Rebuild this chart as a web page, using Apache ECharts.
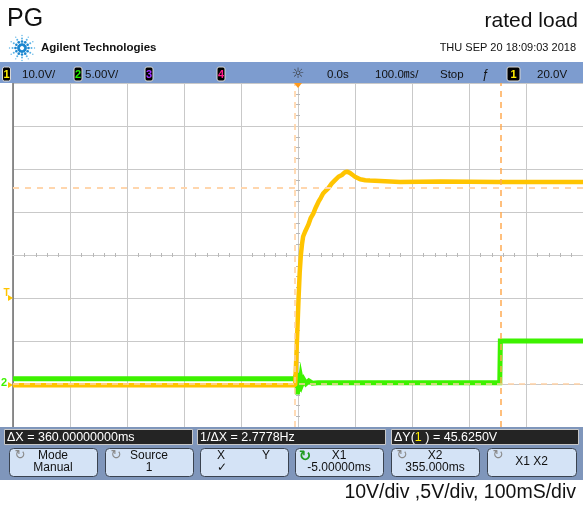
<!DOCTYPE html>
<html>
<head>
<meta charset="utf-8">
<script src="https://cdn.jsdelivr.net/npm/echarts@6/dist/echarts.min.js"></script>
<style>
html, body { margin: 0; padding: 0; background: #fff; }
#scope { width: 583px; height: 507px; }
</style>
</head>
<body>
<div id="scope"></div>
<script>
// screen is 10 x 100ms wide, 8 divisions high (centre = 0 div)
var ch1Time = [-500, -5, -3, -1, 1, 3, 5, 7, 9, 13, 18, 22, 27, 31, 36, 40, 44, 49, 53, 59, 65, 71, 77, 82, 86, 91, 96, 100, 109, 118, 126, 144, 179, 250, 350, 500];
var ch1Volt = [-0.3, -0.3, 6, 13, 20, 26, 30, 32.5, 34.3, 35.6, 37, 38.5, 39.7, 41, 42.4, 43.3, 44.3, 45, 45.5, 46.6, 47.4, 48.2, 48.6, 49.2, 49.4, 49.1, 48.6, 48.2, 47.6, 47.4, 47.3, 47.2, 47.0, 47.1, 47.0, 47.0];

var ch2Time = [-500, -6, -4, -3, -2, -1, 0, 1, 2, 3, 5, 7, 10, 14, 19, 25, 35, 354, 355, 500];
var ch2Volt = [0.62, 0.62, 0.9, 0.1, 1.3, -1.2, 1.2, -0.9, 0.8, -0.4, 0.7, 0.0, 0.5, 0.05, 0.35, 0.1, 0.15, 0.15, 5.0, 5.0];

var ch1PerDiv = 10, ch2PerDiv = 5;      // V/div
var ch1Ground = -3.0, ch2Ground = -3.0; // ground marker, divisions from centre
var trigLevel = 20.0;                   // V on ch1
var cursorX = [-5, 355];                // ms
var cursorY = [0, 45.625];              // V on ch1

var statusTexts = ['10.0V/', '5.00V/', '0.0s', '100.0㎳/', 'Stop', '20.0V'];
var measTexts = ['ΔX = 360.00000000ms', '1/ΔX = 2.7778Hz', '45.6250V'];

var FONT = 'Liberation Sans, Arial, sans-serif';

function toDiv(v, perDiv, gnd) {
	return v / perDiv + gnd;
}
function zip(ts, vs, perDiv, gnd) {
	var out = [];
	for (var i = 0; i < ts.length; i++) {
		out.push([ts[i], toDiv(vs[i], perDiv, gnd)]);
	}
	return out;
}
function txt(x, y, s, font, color, align, valign) {
	return {
		type: 'text', x: x, y: y, z: 10,
		style: {
			text: s, font: font, fill: color,
			textAlign: align || 'left', align: align || 'left',
			textVerticalAlign: valign || 'middle', verticalAlign: valign || 'middle'
		}
	};
}
function box(x, y, w, h, fill, stroke, r) {
	return {
		type: 'rect', z: 9,
		shape: { x: x, y: y, width: w, height: h, r: r || 0 },
		style: { fill: fill, stroke: stroke || null, lineWidth: 1 }
	};
}
function chanBox(x, num, color, w) {
	return [
		box(x, 67, w || 8, 14, '#000', '#d8d8d8', 2),
		txt(x + (w || 8) / 2, 74.5, num, 'bold 11px ' + FONT, color, 'center')
	];
}

var g = [];
// header
g.push(txt(7, 19, 'PG', '25px ' + FONT, '#111'));
g.push(txt(578, 21, 'rated load', '21px ' + FONT, '#111', 'right'));
// agilent spark
for (var a = 0; a < 12; a++) {
	var ang = a * Math.PI / 6;
	var rs = [3.5, 6.5, 9.5, 12.5];
	var sz = [1.5, 1.3, 1.0, 0.7];
	for (var k = 0; k < rs.length; k++) {
		g.push({
			type: 'circle', z: 10,
			shape: { cx: 22 + rs[k] * Math.cos(ang), cy: 48 + rs[k] * Math.sin(ang), r: sz[k] },
			style: { fill: k < 2 ? '#1b86cf' : '#5ab2e6' }
		});
	}
}
g.push(txt(41, 48, 'Agilent Technologies', 'bold 11.5px ' + FONT, '#111'));
g.push(txt(576, 48, 'THU SEP 20 18:09:03 2018', '11px ' + FONT, '#111', 'right'));

// status bar
g.push(box(0, 62, 583, 21, '#7d9ccf'));
g = g.concat(chanBox(2.5, '1', '#ffee00'));
g.push(txt(22, 74.5, statusTexts[0], '11.5px ' + FONT, '#111'));
g = g.concat(chanBox(74, '2', '#22ee00'));
g.push(txt(85, 74.5, statusTexts[1], '11.5px ' + FONT, '#111'));
g = g.concat(chanBox(145, '3', '#a030ff'));
g = g.concat(chanBox(217, '4', '#ff1a8a'));
g.push(txt(298, 74, '☼', '14px DejaVu Sans, sans-serif', '#333', 'center'));
g.push(txt(327, 74.5, statusTexts[2], '11.5px ' + FONT, '#111'));
g.push(txt(375, 74.5, statusTexts[3], '11.5px ' + FONT + ', Noto Sans CJK SC', '#111'));
g.push(txt(440, 74.5, statusTexts[4], '11.5px ' + FONT, '#111'));
g.push(txt(485, 74.5, 'ƒ', 'italic 12px ' + FONT, '#111', 'center'));
g = g.concat(chanBox(507, '1', '#ffee00', 13));
g.push(txt(537, 74.5, statusTexts[5], '11.5px ' + FONT, '#111'));

// bottom panel
g.push(box(0, 427, 583, 53, '#7f96bb'));
g.push(box(4.5, 429.5, 188, 15, '#242424', '#c8c8c8'));
g.push(txt(7, 437.5, measTexts[0], '12.5px ' + FONT, '#fff'));
g.push(box(197.5, 429.5, 188, 15, '#242424', '#c8c8c8'));
g.push(txt(200, 437.5, measTexts[1], '12.5px ' + FONT, '#fff'));
g.push(box(391.5, 429.5, 187, 15, '#242424', '#c8c8c8'));
g.push({
	type: 'text', x: 394, y: 437.5, z: 10,
	style: {
		text: '{w|ΔY(}{y|1}{w| ) = ' + measTexts[2] + '}',
		textVerticalAlign: 'middle', verticalAlign: 'middle',
		rich: {
			w: { font: '12.5px ' + FONT, fill: '#fff', color: '#fff' },
			y: { font: '12.5px ' + FONT, fill: '#ffee00', color: '#ffee00' }
		}
	}
});

var keys = [
	{ x: 9, w: 88, t1: 'Mode', t2: 'Manual', icon: 1 },
	{ x: 105, w: 88, t1: 'Source', t2: '1', icon: 1 },
	{ x: 200, w: 88, t1: '', t2: '', icon: 0 },
	{ x: 295, w: 88, t1: 'X1', t2: '-5.00000ms', icon: 2 },
	{ x: 391, w: 88, t1: 'X2', t2: '355.000ms', icon: 1 },
	{ x: 487, w: 89, t1: 'X1 X2', t2: null, icon: 1 }
];
keys.forEach(function(k) {
	g.push(box(k.x + 0.5, 448.5, k.w, 28, '#d4e3f6', '#3a4350', 4));
	var cx = k.x + k.w / 2;
	if (k.t2 === null) {
		g.push(txt(cx, 462, k.t1, '12px ' + FONT, '#111', 'center'));
	} else if (k.t1) {
		g.push(txt(cx, 455.5, k.t1, '12px ' + FONT, '#111', 'center'));
		g.push(txt(cx, 467.5, k.t2, '12px ' + FONT, '#111', 'center'));
	}
	if (k.icon == 1) {
		g.push(txt(k.x + 11, 456, '↻', '13px DejaVu Sans, sans-serif', '#8a8a8a', 'center'));
	} else if (k.icon == 2) {
		g.push(txt(k.x + 10, 457, '↻', 'bold 15px DejaVu Sans, sans-serif', '#1f9a1f', 'center'));
	}
});
g.push(txt(221, 455.5, 'X', '12px ' + FONT, '#111', 'center'));
g.push(txt(266, 455.5, 'Y', '12px ' + FONT, '#111', 'center'));
g.push(txt(222, 467.5, '✓', '12px DejaVu Sans, sans-serif', '#111', 'center'));

g.push(txt(576, 493, '10V/div ,5V/div, 100mS/div', '19.5px ' + FONT, '#111', 'right'));

var gridLine = { lineStyle: { color: '#c9c9c9', width: 1 } };
function centreAxis(dim, inside) {
	return {
		type: 'value', min: dim == 'x' ? -500 : -4, max: dim == 'x' ? 500 : 4,
		interval: dim == 'x' ? 100 : 1,
		axisLine: { show: true, onZero: true, onZeroAxisIndex: 0, lineStyle: { color: '#c9c9c9' } },
		axisTick: { show: false, inside: inside },
		minorTick: { show: true, splitNumber: dim == 'x' ? 5 : 4, length: 2, lineStyle: { color: '#b8b8b8' } },
		axisLabel: { show: false },
		splitLine: { show: false }
	};
}

var option = {
	animation: false,
	backgroundColor: '#fff',
	grid: { left: 13, right: 0, top: 83, bottom: 80, containLabel: false },
	xAxis: [{
		type: 'value', min: -500, max: 500, interval: 100,
		axisLine: { show: false, onZero: false },
		axisTick: { show: false }, axisLabel: { show: false },
		splitLine: gridLine
	}, centreAxis('x', true), centreAxis('x', false)],
	yAxis: [{
		type: 'value', min: -4, max: 4, interval: 1,
		axisLine: { show: true, onZero: false, lineStyle: { color: '#6e6e6e', width: 1.5 } },
		axisTick: { show: false }, axisLabel: { show: false },
		splitLine: gridLine
	}, centreAxis('y', true), centreAxis('y', false)],
	graphic: { elements: g },
	series: [{
		name: 'cursors', type: 'line', data: [], z: 1,
		markLine: {
			silent: true, symbol: ['none', 'none'], label: { show: false },
			lineStyle: { type: [6, 5], width: 1.5, color: '#ffd2a6' },
			data: [
				{ xAxis: cursorX[0], lineStyle: { color: '#ffcf9e', width: 1.5, type: [6, 5] } },
				{ xAxis: cursorX[1], lineStyle: { color: '#ffab52', width: 1.5, type: [6, 5] } },
				{ yAxis: toDiv(cursorY[0], ch1PerDiv, ch1Ground) },
				{ yAxis: toDiv(cursorY[1], ch1PerDiv, ch1Ground), lineStyle: { color: '#ffd6ad', width: 2, type: [6, 6] } }
			]
		}
	}, {
		name: 'ch2', type: 'line', z: 3,
		data: zip(ch2Time, ch2Volt, ch2PerDiv, ch2Ground),
		showSymbol: false, symbol: 'none',
		lineStyle: { color: '#3df200', width: 5, join: 'miter' },
		markPoint: {
			silent: true,
			data: [{
				coord: [-500, ch2Ground], symbol: 'rect', symbolSize: 0.1,
				label: { show: true, formatter: '2', position: 'inside', offset: [-9, -1], color: '#3df200', fontSize: 11, fontWeight: 'bold' }
			}]
		}
	}, {
		name: 'ch1', type: 'line', z: 4,
		data: zip(ch1Time, ch1Volt, ch1PerDiv, ch1Ground),
		showSymbol: false, symbol: 'none',
		lineStyle: { color: '#ffc400', width: 4.5 },
		markPoint: {
			silent: true,
			data: [{
				coord: [0, 4], symbol: 'triangle', symbolSize: [8, 5], symbolRotate: 180, symbolOffset: [0, 2.5],
				itemStyle: { color: '#ff9b1e' }, label: { show: false }
			}, {
				coord: [-500, toDiv(trigLevel, ch1PerDiv, ch1Ground)], symbol: 'triangle', symbolSize: [6, 5],
				symbolRotate: -90, symbolOffset: [-2.5, 0], itemStyle: { color: '#ffc400' },
				label: { show: true, formatter: 'T', position: 'inside', offset: [-4, -5], color: '#ffc400', fontSize: 10, fontWeight: 'bold' }
			}, {
				coord: [-500, ch1Ground], symbol: 'triangle', symbolSize: [6, 5],
				symbolRotate: -90, symbolOffset: [-2.5, 1], itemStyle: { color: '#ffc400' }, label: { show: false }
			}]
		}
	}]
};

var chart = echarts.init(document.getElementById('scope'));
chart.setOption(option);
</script>
</body>
</html>
